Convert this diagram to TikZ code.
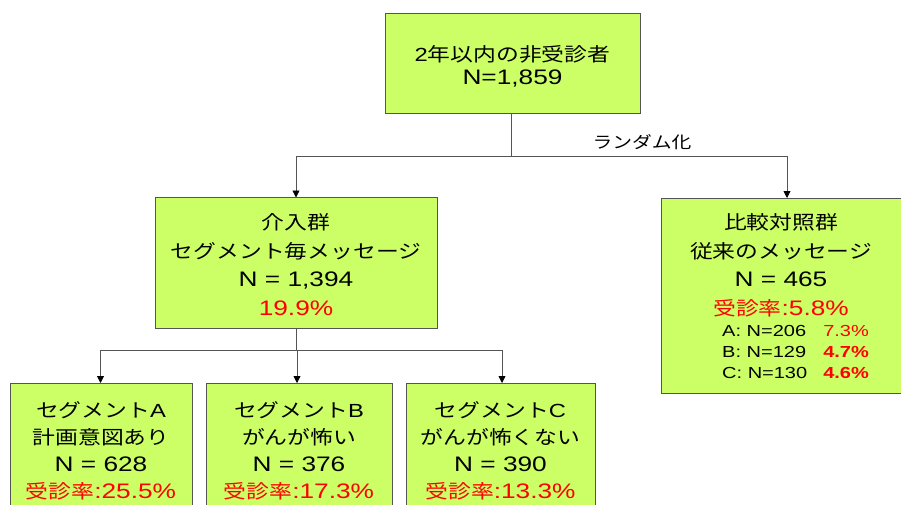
\documentclass[tikz,border=0pt]{standalone}
\usepackage{fontspec}
\setmainfont[FakeStretch=1.2]{Noto Sans CJK JP}
\newfontfamily\latf[FakeStretch=1.25]{Liberation Sans}
\newcommand{\lt}[1]{{\fontsize{21}{27}\selectfont\latf #1}}
\newcommand{\ls}[1]{{\latf #1}}
\usetikzlibrary{arrows.meta,calc}
\definecolor{boxfill}{HTML}{CCFF66}
\definecolor{boxline}{HTML}{555555}
\definecolor{rate}{HTML}{FF0000}
\begin{document}
\begin{tikzpicture}[x=1pt,y=-1pt,
  box/.style={draw=boxline,line width=0.8pt,fill=boxfill,inner sep=0pt,outer sep=0pt,
    align=center,font=\fontsize{19}{27}\selectfont},
  conn/.style={draw=boxline,line width=0.8pt},
  tip/.style={-{Triangle[length=7pt,width=7pt,color=black,fill=black]}},
  rt/.style={text=rate}]
\useasboundingbox (0,0) rectangle (901,505);
\fill[white] (0,0) rectangle (901,505);
% top
\node[box,minimum width=255pt,minimum height=100pt,font=\fontsize{19}{23}\selectfont,text depth=0pt] (top) at (512.5,63) {};
\node[align=center,font=\fontsize{19}{23}\selectfont,inner sep=0pt] (toptext) at (512.5,66)
  {\ls{2}年以内の非受診者\\\lt{N=1,859}};
% level 2
\node[box,minimum width=282pt,minimum height=131pt] (int) at (296,263) {};
\node[align=center,font=\fontsize{19}{28.5}\selectfont,inner sep=0pt] (inttext) at (296,264.5)
  {介入群\\セグメント毎メッセージ\\\lt{N = 1,394}\\\textcolor{rate}{\lt{19.9\%}}};
\node[box,minimum width=244pt,minimum height=195pt] (ctl) at (783,295.5) {};
\node[align=center,font=\fontsize{19}{28.5}\selectfont,inner sep=0pt,anchor=north] (ctltext) at (781,213.5)
  {比較対照群\\従来のメッセージ\\\lt{N = 465}\\\textcolor{rate}{受診率\lt{:5.8\%}}};
\node[font=\fontsize{16}{22}\selectfont\latf,inner sep=0pt,anchor=north west] (ctltab) at (722,321)
  {\begin{tabular}{@{}l@{\hspace{16pt}}l@{}}
  A: N=206 & \textcolor{rate}{7.3\%}\\[-1pt]
  B: N=129 & \textcolor{rate}{\bfseries 4.7\%}\\[-1pt]
  C: N=130 & \textcolor{rate}{\bfseries 4.6\%}
  \end{tabular}};
% level 3
\node[box,minimum width=182pt,minimum height=136pt] (sa) at (101,451)
  {セグメント\ls{A}\\計画意図あり\\\lt{N = 628}\\\textcolor{rate}{受診率\lt{:25.5\%}}};
\node[box,minimum width=186pt,minimum height=136pt] (sb) at (299,451)
  {セグメント\ls{B}\\がんが怖い\\\lt{N = 376}\\\textcolor{rate}{受診率\lt{:17.3\%}}};
\node[box,minimum width=189pt,minimum height=136pt] (sc) at (500.5,451)
  {セグメント\ls{C}\\がんが怖くない\\\lt{N = 390}\\\textcolor{rate}{受診率\lt{:13.3\%}}};
% connectors
\coordinate (j1) at ($(top.south)+(-1.5,43)$);
\coordinate (cn) at ($(ctl.north)+(4,0)$);
\draw[conn] (top.south -| j1) -- (j1);
\draw[conn,tip] (j1) -| (int.north);
\draw[conn,tip] (j1) -| (cn);
\node[font=\fontsize{16.5}{18}\selectfont,inner sep=0pt] (rand) at (642,142) {ランダム化};
\coordinate (j2) at ($(int.south)+(0,22)$);
\coordinate (na) at ($(sa.north)+(-0.5,0)$);
\coordinate (nb) at ($(sb.north)+(-2,0)$);
\coordinate (nc) at ($(sc.north)+(1.5,0)$);
\draw[conn] (int.south) -- (j2);
\draw[conn,tip] (j2) -| (na);
\draw[conn,tip] (j2) -| (nb);
\draw[conn,tip] (j2) -| (nc);
\end{tikzpicture}
\end{document}
